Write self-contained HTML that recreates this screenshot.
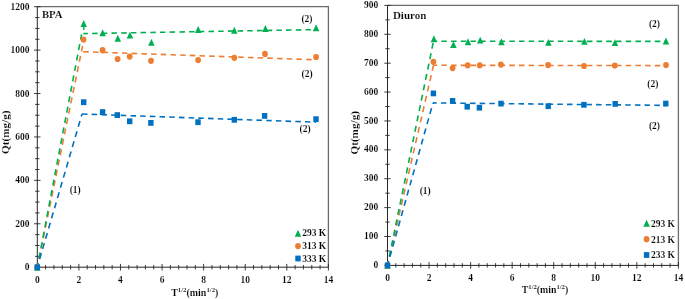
<!DOCTYPE html>
<html><head><meta charset="utf-8"><style>
html,body{margin:0;padding:0;background:#fff;}
body{width:685px;height:299px;overflow:hidden;}
svg{display:block;will-change:transform;}
text{font-family:"Liberation Serif", serif;font-weight:bold;fill:#000;font-size:9.5px;stroke:#fff;stroke-width:0.12px;}
</style></head><body>
<svg width="685" height="299" viewBox="0 0 685 299">
<rect width="685" height="299" fill="#fff"/>
<path d="M37.3 6.7H328.4V267.2" fill="none" stroke="#6b6b6b" stroke-width="1.3"/>
<path d="M37.3 6.7V267.2H328.4" fill="none" stroke="#262626" stroke-width="1"/>
<path d="M34.1 267.2H40.5M35.1 256.35H39.5M35.1 245.49H39.5M35.1 234.64H39.5M34.1 223.78H40.5M35.1 212.93H39.5M35.1 202.07H39.5M35.1 191.22H39.5M34.1 180.37H40.5M35.1 169.51H39.5M35.1 158.66H39.5M35.1 147.8H39.5M34.1 136.95H40.5M35.1 126.1H39.5M35.1 115.24H39.5M35.1 104.39H39.5M34.1 93.53H40.5M35.1 82.68H39.5M35.1 71.82H39.5M35.1 60.97H39.5M34.1 50.12H40.5M35.1 39.26H39.5M35.1 28.41H39.5M35.1 17.55H39.5M34.1 6.7H40.5M37.3 263.9V270.5M45.62 265V269.4M53.93 265V269.4M62.25 265V269.4M70.57 265V269.4M78.89 263.9V270.5M87.2 265V269.4M95.52 265V269.4M103.84 265V269.4M112.15 265V269.4M120.47 263.9V270.5M128.79 265V269.4M137.11 265V269.4M145.42 265V269.4M153.74 265V269.4M162.06 263.9V270.5M170.37 265V269.4M178.69 265V269.4M187.01 265V269.4M195.33 265V269.4M203.64 263.9V270.5M211.96 265V269.4M220.28 265V269.4M228.59 265V269.4M236.91 265V269.4M245.23 263.9V270.5M253.55 265V269.4M261.86 265V269.4M270.18 265V269.4M278.5 265V269.4M286.81 263.9V270.5M295.13 265V269.4M303.45 265V269.4M311.77 265V269.4M320.08 265V269.4M328.4 263.9V270.5" stroke="#262626" stroke-width="0.9"/>
<text x="29.6" y="270.2" text-anchor="end">0</text>
<text x="29.6" y="226.78" text-anchor="end">200</text>
<text x="29.6" y="183.37" text-anchor="end">400</text>
<text x="29.6" y="139.95" text-anchor="end">600</text>
<text x="29.6" y="96.53" text-anchor="end">800</text>
<text x="29.6" y="53.12" text-anchor="end">1000</text>
<text x="29.6" y="9.7" text-anchor="end">1200</text>
<text x="37.3" y="282.8" text-anchor="middle">0</text>
<text x="78.89" y="282.8" text-anchor="middle">2</text>
<text x="120.47" y="282.8" text-anchor="middle">4</text>
<text x="162.06" y="282.8" text-anchor="middle">6</text>
<text x="203.64" y="282.8" text-anchor="middle">8</text>
<text x="245.23" y="282.8" text-anchor="middle">10</text>
<text x="286.81" y="282.8" text-anchor="middle">12</text>
<text x="328.4" y="282.8" text-anchor="middle">14</text>
<path d="M37.3 267.2L82.6 45.8" fill="none" stroke="#ED7D31" stroke-width="1.6" stroke-dasharray="6 4.6" stroke-dashoffset="2.3"/>
<path d="M83.2 51.7L316 59.8" fill="none" stroke="#ED7D31" stroke-width="1.6" stroke-dasharray="5.5 4.2" stroke-dashoffset="0"/>
<path d="M37.3 267.2L81.6 34.4" fill="none" stroke="#00B050" stroke-width="1.6" stroke-dasharray="6 4.6" stroke-dashoffset="1.6"/>
<path d="M83.4 33.6L316 29.6" fill="none" stroke="#00B050" stroke-width="1.6" stroke-dasharray="5.5 4.2" stroke-dashoffset="1.0"/>
<path d="M37.3 267.2L82 114" fill="none" stroke="#0070C0" stroke-width="1.6" stroke-dasharray="6 4.6" stroke-dashoffset="2.1"/>
<path d="M82 114L316 122.2" fill="none" stroke="#0070C0" stroke-width="1.6" stroke-dasharray="5.5 4.2" stroke-dashoffset="0"/>
<path d="M83.8 25.5V30" stroke="#00B050" stroke-width="1.4"/>
<path d="M37.3 263.75L40.55 270.65L34.05 270.65Z" fill="#00B050"/>
<path d="M83.7 20.05L86.95 26.95L80.45 26.95Z" fill="#00B050"/>
<path d="M102.6 29.25L105.85 36.15L99.35 36.15Z" fill="#00B050"/>
<path d="M117.8 34.85L121.05 41.75L114.55 41.75Z" fill="#00B050"/>
<path d="M129.9 31.65L133.15 38.55L126.65 38.55Z" fill="#00B050"/>
<path d="M151.4 38.85L154.65 45.75L148.15 45.75Z" fill="#00B050"/>
<path d="M198.2 26.05L201.45 32.95L194.95 32.95Z" fill="#00B050"/>
<path d="M234.3 26.85L237.55 33.75L231.05 33.75Z" fill="#00B050"/>
<path d="M265.4 25.05L268.65 31.95L262.15 31.95Z" fill="#00B050"/>
<path d="M316.1 24.35L319.35 31.25L312.85 31.25Z" fill="#00B050"/>
<ellipse cx="37.3" cy="267.2" rx="2.9" ry="3.10" fill="#ED7D31"/>
<ellipse cx="83.5" cy="39.6" rx="2.9" ry="3.10" fill="#ED7D31"/>
<ellipse cx="102.6" cy="50.2" rx="2.9" ry="3.10" fill="#ED7D31"/>
<ellipse cx="117.6" cy="59" rx="2.9" ry="3.10" fill="#ED7D31"/>
<ellipse cx="129.7" cy="56.6" rx="2.9" ry="3.10" fill="#ED7D31"/>
<ellipse cx="151" cy="60.8" rx="2.9" ry="3.10" fill="#ED7D31"/>
<ellipse cx="198.1" cy="60.1" rx="2.9" ry="3.10" fill="#ED7D31"/>
<ellipse cx="234.3" cy="57.8" rx="2.9" ry="3.10" fill="#ED7D31"/>
<ellipse cx="265" cy="53.9" rx="2.9" ry="3.10" fill="#ED7D31"/>
<ellipse cx="316.1" cy="57" rx="2.9" ry="3.10" fill="#ED7D31"/>
<rect x="34.6" y="264.3" width="5.4" height="5.8" fill="#0070C0"/>
<rect x="81" y="99.3" width="5.4" height="5.8" fill="#0070C0"/>
<rect x="99.9" y="109.2" width="5.4" height="5.8" fill="#0070C0"/>
<rect x="114.6" y="112.2" width="5.4" height="5.8" fill="#0070C0"/>
<rect x="127" y="118.4" width="5.4" height="5.8" fill="#0070C0"/>
<rect x="148.2" y="120" width="5.4" height="5.8" fill="#0070C0"/>
<rect x="195.3" y="119.3" width="5.4" height="5.8" fill="#0070C0"/>
<rect x="231.6" y="116.9" width="5.4" height="5.8" fill="#0070C0"/>
<rect x="261.9" y="113" width="5.4" height="5.8" fill="#0070C0"/>
<rect x="313.3" y="116.3" width="5.4" height="5.8" fill="#0070C0"/>
<path d="M298 229.75L301.25 236.65L294.75 236.65Z" fill="#00B050"/>
<text x="302.2" y="236.2" font-size="9">293 K</text>
<ellipse cx="298" cy="246.1" rx="2.9" ry="3.10" fill="#ED7D31"/>
<text x="302.2" y="249.1" font-size="9">313 K</text>
<rect x="295.3" y="255.6" width="5.4" height="5.8" fill="#0070C0"/>
<text x="302.2" y="261.5" font-size="9">333 K</text>
<text x="301.4" y="21.8" font-size="9.5">(2)</text>
<text x="301.5" y="76.6" font-size="9.5">(2)</text>
<text x="299.6" y="131.8" font-size="9.5">(2)</text>
<text x="69.7" y="192.5" font-size="9.5">(1)</text>
<text x="41.9" y="18.3" font-size="11" textLength="20.6" lengthAdjust="spacingAndGlyphs">BPA</text>
<text transform="translate(8.6 132.2) rotate(-90)" x="-21.75" y="0" font-size="11" textLength="43.5" lengthAdjust="spacingAndGlyphs">Qt(mg/g)</text>
<text x="171.2" y="295.5" font-size="10.5" textLength="47.2" lengthAdjust="spacingAndGlyphs">T<tspan font-size="6.51" dy="-3.6">1/2</tspan><tspan dy="3.6">(min</tspan><tspan font-size="6.51" dy="-3.6">1/2</tspan><tspan dy="3.6">)</tspan></text>
<path d="M387.5 5.4H678.4V265.4" fill="none" stroke="#6b6b6b" stroke-width="1.3"/>
<path d="M387.5 5.4V265.4H678.4" fill="none" stroke="#262626" stroke-width="1"/>
<path d="M384.3 265.4H390.7M385.3 250.96H389.7M384.3 236.51H390.7M385.3 222.07H389.7M384.3 207.62H390.7M385.3 193.18H389.7M384.3 178.73H390.7M385.3 164.29H389.7M384.3 149.84H390.7M385.3 135.4H389.7M384.3 120.96H390.7M385.3 106.51H389.7M384.3 92.07H390.7M385.3 77.62H389.7M384.3 63.18H390.7M385.3 48.73H389.7M384.3 34.29H390.7M385.3 19.84H389.7M384.3 5.4H390.7M387.5 262.1V268.7M395.81 263.2V267.6M404.12 263.2V267.6M412.43 263.2V267.6M420.75 263.2V267.6M429.06 262.1V268.7M437.37 263.2V267.6M445.68 263.2V267.6M453.99 263.2V267.6M462.3 263.2V267.6M470.61 262.1V268.7M478.93 263.2V267.6M487.24 263.2V267.6M495.55 263.2V267.6M503.86 263.2V267.6M512.17 262.1V268.7M520.48 263.2V267.6M528.79 263.2V267.6M537.11 263.2V267.6M545.42 263.2V267.6M553.73 262.1V268.7M562.04 263.2V267.6M570.35 263.2V267.6M578.66 263.2V267.6M586.97 263.2V267.6M595.29 262.1V268.7M603.6 263.2V267.6M611.91 263.2V267.6M620.22 263.2V267.6M628.53 263.2V267.6M636.84 262.1V268.7M645.15 263.2V267.6M653.47 263.2V267.6M661.78 263.2V267.6M670.09 263.2V267.6M678.4 262.1V268.7" stroke="#262626" stroke-width="0.9"/>
<text x="378.2" y="268" text-anchor="end">0</text>
<text x="378.2" y="239.11" text-anchor="end">100</text>
<text x="378.2" y="210.22" text-anchor="end">200</text>
<text x="378.2" y="181.33" text-anchor="end">300</text>
<text x="378.2" y="152.44" text-anchor="end">400</text>
<text x="378.2" y="123.56" text-anchor="end">500</text>
<text x="378.2" y="94.67" text-anchor="end">600</text>
<text x="378.2" y="65.78" text-anchor="end">700</text>
<text x="378.2" y="36.89" text-anchor="end">800</text>
<text x="378.2" y="8" text-anchor="end">900</text>
<text x="387.5" y="281" text-anchor="middle">0</text>
<text x="429.06" y="281" text-anchor="middle">2</text>
<text x="470.61" y="281" text-anchor="middle">4</text>
<text x="512.17" y="281" text-anchor="middle">6</text>
<text x="553.73" y="281" text-anchor="middle">8</text>
<text x="595.29" y="281" text-anchor="middle">10</text>
<text x="636.84" y="281" text-anchor="middle">12</text>
<text x="678.4" y="281" text-anchor="middle">14</text>
<path d="M387.5 265.4L433.5 65.3" fill="none" stroke="#ED7D31" stroke-width="1.6" stroke-dasharray="6 4.6" stroke-dashoffset="1.7"/>
<path d="M433.5 65.3L666 65.6" fill="none" stroke="#ED7D31" stroke-width="1.6" stroke-dasharray="5.5 4.2" stroke-dashoffset="1.8"/>
<path d="M387.5 265.4L433.5 41.2" fill="none" stroke="#00B050" stroke-width="1.6" stroke-dasharray="6 4.6" stroke-dashoffset="1.4"/>
<path d="M433.5 41.2L666 41.4" fill="none" stroke="#00B050" stroke-width="1.6" stroke-dasharray="5.5 4.2" stroke-dashoffset="1.8"/>
<path d="M387.5 265.4L433 102.9" fill="none" stroke="#0070C0" stroke-width="1.6" stroke-dasharray="6 4.6" stroke-dashoffset="1.7"/>
<path d="M433 102.9L666 105.4" fill="none" stroke="#0070C0" stroke-width="1.6" stroke-dasharray="5.5 4.2" stroke-dashoffset="1.8"/>
<path d="M387.5 261.95L390.75 268.85L384.25 268.85Z" fill="#00B050"/>
<path d="M433.9 35.25L437.15 42.15L430.65 42.15Z" fill="#00B050"/>
<path d="M453.4 41.15L456.65 48.05L450.15 48.05Z" fill="#00B050"/>
<path d="M468 38.25L471.25 45.15L464.75 45.15Z" fill="#00B050"/>
<path d="M480.2 36.65L483.45 43.55L476.95 43.55Z" fill="#00B050"/>
<path d="M501.4 38.25L504.65 45.15L498.15 45.15Z" fill="#00B050"/>
<path d="M548.4 38.95L551.65 45.85L545.15 45.85Z" fill="#00B050"/>
<path d="M584.4 37.95L587.65 44.85L581.15 44.85Z" fill="#00B050"/>
<path d="M615 39.15L618.25 46.05L611.75 46.05Z" fill="#00B050"/>
<path d="M666 37.55L669.25 44.45L662.75 44.45Z" fill="#00B050"/>
<ellipse cx="387.5" cy="265.4" rx="2.9" ry="3.10" fill="#ED7D31"/>
<ellipse cx="433.4" cy="61.8" rx="2.9" ry="3.10" fill="#ED7D31"/>
<ellipse cx="452.6" cy="68.1" rx="2.9" ry="3.10" fill="#ED7D31"/>
<ellipse cx="467.7" cy="65.3" rx="2.9" ry="3.10" fill="#ED7D31"/>
<ellipse cx="479.7" cy="65.3" rx="2.9" ry="3.10" fill="#ED7D31"/>
<ellipse cx="500.9" cy="64.6" rx="2.9" ry="3.10" fill="#ED7D31"/>
<ellipse cx="548.1" cy="65.1" rx="2.9" ry="3.10" fill="#ED7D31"/>
<ellipse cx="584" cy="66" rx="2.9" ry="3.10" fill="#ED7D31"/>
<ellipse cx="614.8" cy="65.5" rx="2.9" ry="3.10" fill="#ED7D31"/>
<ellipse cx="666" cy="65.1" rx="2.9" ry="3.10" fill="#ED7D31"/>
<rect x="384.8" y="262.5" width="5.4" height="5.8" fill="#0070C0"/>
<rect x="430.7" y="90.5" width="5.4" height="5.8" fill="#0070C0"/>
<rect x="449.9" y="98" width="5.4" height="5.8" fill="#0070C0"/>
<rect x="464.5" y="103.8" width="5.4" height="5.8" fill="#0070C0"/>
<rect x="476.7" y="104.8" width="5.4" height="5.8" fill="#0070C0"/>
<rect x="498.3" y="100.7" width="5.4" height="5.8" fill="#0070C0"/>
<rect x="545.5" y="103.3" width="5.4" height="5.8" fill="#0070C0"/>
<rect x="581.2" y="101.9" width="5.4" height="5.8" fill="#0070C0"/>
<rect x="612.5" y="101" width="5.4" height="5.8" fill="#0070C0"/>
<rect x="663.1" y="100.7" width="5.4" height="5.8" fill="#0070C0"/>
<path d="M646.6 219.85L649.85 226.75L643.35 226.75Z" fill="#00B050"/>
<text x="650.9" y="226.7" font-size="9">293 K</text>
<ellipse cx="646.6" cy="239.2" rx="2.9" ry="3.10" fill="#ED7D31"/>
<text x="650.9" y="242.6" font-size="9">213 K</text>
<rect x="643.9" y="252.1" width="5.4" height="5.8" fill="#0070C0"/>
<text x="650.9" y="258.4" font-size="9">233 K</text>
<text x="648.9" y="27.4" font-size="9.5">(2)</text>
<text x="647.3" y="86.5" font-size="9.5">(2)</text>
<text x="648.9" y="129.2" font-size="9.5">(2)</text>
<text x="419.7" y="194.3" font-size="9.5">(1)</text>
<text x="392.9" y="18.9" font-size="11" textLength="33.4" lengthAdjust="spacingAndGlyphs">Diuron</text>
<text transform="translate(358.4 132.8) rotate(-90)" x="-21.75" y="0" font-size="11" textLength="43.5" lengthAdjust="spacingAndGlyphs">Qt(mg/g)</text>
<text x="521.8" y="292.5" font-size="10.5" textLength="46.4" lengthAdjust="spacingAndGlyphs">T<tspan font-size="6.51" dy="-3.6">1/2</tspan><tspan dy="3.6">(min</tspan><tspan font-size="6.51" dy="-3.6">1/2</tspan><tspan dy="3.6">)</tspan></text>
</svg>
</body></html>
